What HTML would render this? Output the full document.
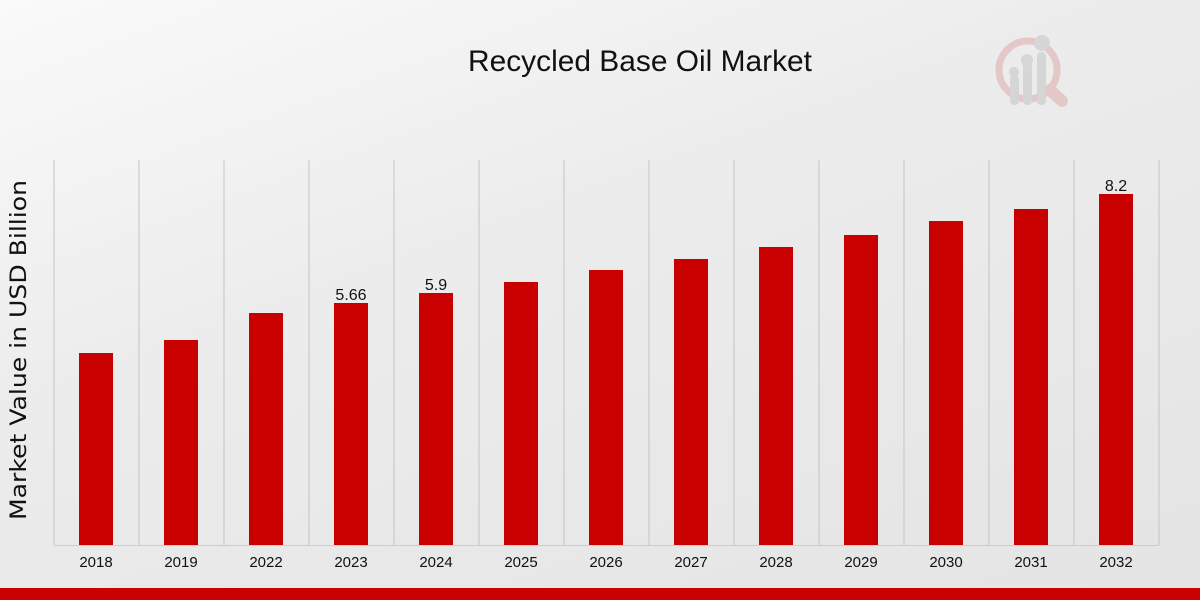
<!DOCTYPE html>
<html><head><meta charset="utf-8"><style>
html,body{margin:0;padding:0;width:1200px;height:600px;overflow:hidden}
body{background:linear-gradient(160deg,#fafafa 0%,#ececec 40%,#e4e4e4 100%);font-family:"Liberation Sans",sans-serif}
</style></head><body>
<svg width="1200" height="600" xmlns="http://www.w3.org/2000/svg" style="position:absolute;left:0;top:0">
<text x="640" y="71" text-anchor="middle" font-family="Liberation Sans Narrow, Liberation Sans, sans-serif" font-size="30" fill="#111" textLength="344" lengthAdjust="spacingAndGlyphs">Recycled Base Oil Market</text>
<g opacity="0.6">
<circle cx="1028" cy="70" r="29" fill="none" stroke="#e0b0b0" stroke-width="7"/>
<line x1="1050" y1="90" x2="1062" y2="101" stroke="#e0b0b0" stroke-width="12" stroke-linecap="round"/>
<rect x="1010" y="75" width="9" height="30" rx="4" fill="#c8c8c8"/>
<rect x="1023" y="62" width="9" height="43" rx="4" fill="#c8c8c8"/>
<rect x="1037" y="52" width="9" height="53" rx="4" fill="#c8c8c8"/>
<circle cx="1014" cy="72" r="5" fill="#c8c8c8"/><circle cx="1027" cy="60" r="6" fill="#c8c8c8"/><circle cx="1042" cy="43" r="8" fill="#c8c8c8"/>
</g>
<g stroke="#c4c4c4" stroke-width="1">
<line x1="54" y1="160" x2="54" y2="545"/><line x1="139" y1="160" x2="139" y2="545"/><line x1="224" y1="160" x2="224" y2="545"/><line x1="309" y1="160" x2="309" y2="545"/><line x1="394" y1="160" x2="394" y2="545"/><line x1="479" y1="160" x2="479" y2="545"/><line x1="564" y1="160" x2="564" y2="545"/><line x1="649" y1="160" x2="649" y2="545"/><line x1="734" y1="160" x2="734" y2="545"/><line x1="819" y1="160" x2="819" y2="545"/><line x1="904" y1="160" x2="904" y2="545"/><line x1="989" y1="160" x2="989" y2="545"/><line x1="1074" y1="160" x2="1074" y2="545"/><line x1="1159" y1="160" x2="1159" y2="545"/>
</g>
<line x1="54" y1="545.5" x2="1159" y2="545.5" stroke="#ccc"/>
<g fill="#c80000">
<rect x="79" y="353" width="34" height="192"/><rect x="164" y="340" width="34" height="205"/><rect x="249" y="313" width="34" height="232"/><rect x="334" y="303" width="34" height="242"/><rect x="419" y="293" width="34" height="252"/><rect x="504" y="282" width="34" height="263"/><rect x="589" y="270" width="34" height="275"/><rect x="674" y="259" width="34" height="286"/><rect x="759" y="247" width="34" height="298"/><rect x="844" y="235" width="34" height="310"/><rect x="929" y="221" width="34" height="324"/><rect x="1014" y="209" width="34" height="336"/><rect x="1099" y="194" width="34" height="351"/>
</g>
<g font-size="16" fill="#111" text-anchor="middle" font-family="Liberation Sans Narrow, Liberation Sans, sans-serif">
<text x="351" y="300">5.66</text><text x="436" y="290">5.9</text><text x="1116" y="191">8.2</text>
</g>
<g font-size="15" fill="#111" text-anchor="middle" font-family="Liberation Sans Narrow, Liberation Sans, sans-serif">
<text x="96" y="567">2018</text><text x="181" y="567">2019</text><text x="266" y="567">2022</text><text x="351" y="567">2023</text><text x="436" y="567">2024</text><text x="521" y="567">2025</text><text x="606" y="567">2026</text><text x="691" y="567">2027</text><text x="776" y="567">2028</text><text x="861" y="567">2029</text><text x="946" y="567">2030</text><text x="1031" y="567">2031</text><text x="1116" y="567">2032</text>
</g>
<text transform="translate(26,350) rotate(-90)" text-anchor="middle" font-family="DejaVu Sans, sans-serif" font-size="22" fill="#111" textLength="340" lengthAdjust="spacingAndGlyphs">Market Value in USD Billion</text>
<rect x="0" y="588" width="1200" height="12" fill="#c80000"/>
</svg>
</body></html>
